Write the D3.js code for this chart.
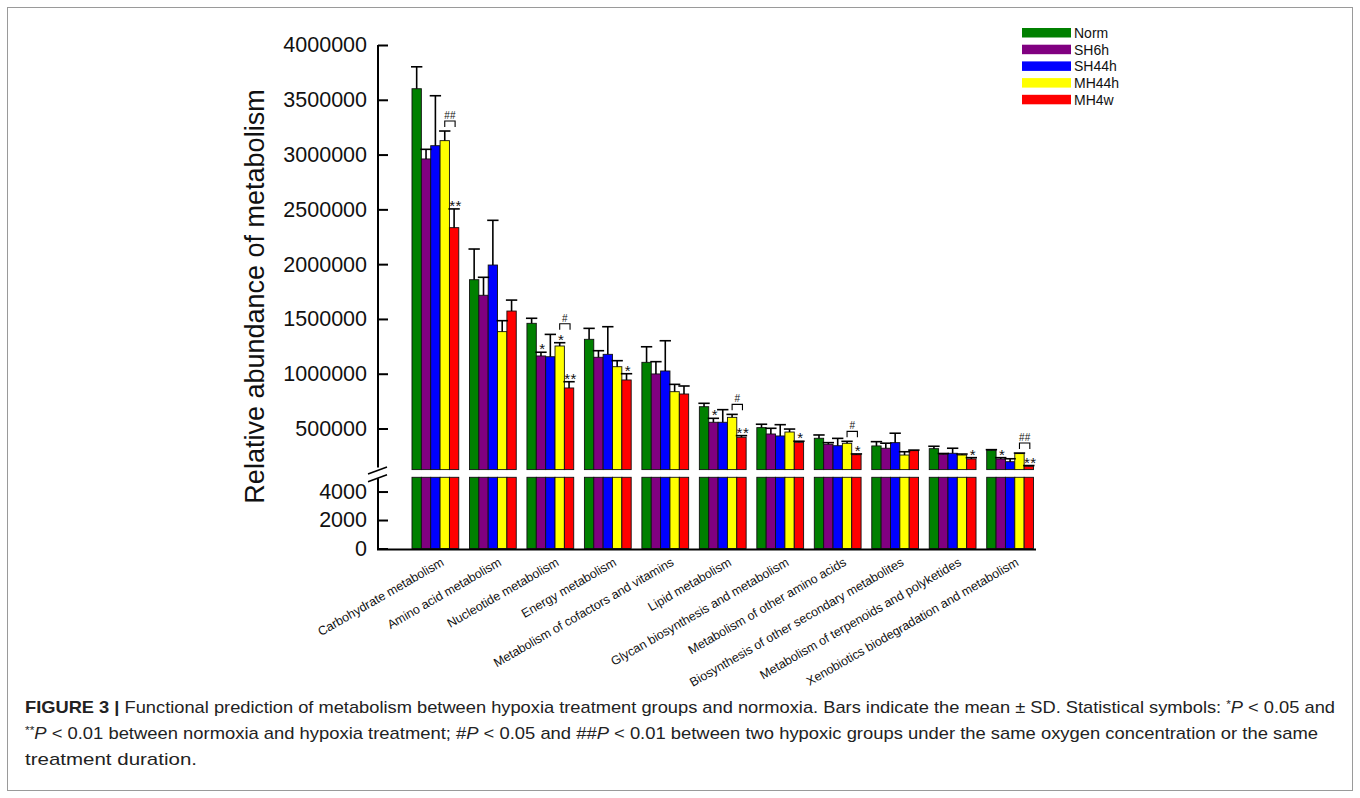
<!DOCTYPE html>
<html>
<head>
<meta charset="utf-8">
<script src="https://cdn.jsdelivr.net/npm/d3@7"></script>
<style>
  body { margin: 0; background: #fff; }
  svg { display: block; }
</style>
</head>
<body>
<script>
const width = 1360, height = 798;

// categories (x groups)
const categories = [
  "Carbohydrate metabolism",
  "Amino acid metabolism",
  "Nucleotide metabolism",
  "Energy metabolism",
  "Metabolism of cofactors and vitamins",
  "Lipid metabolism",
  "Glycan biosynthesis and metabolism",
  "Metabolism of other amino acids",
  "Biosynthesis of other secondary metabolites",
  "Metabolism of terpenoids and polyketides",
  "Xenobiotics biodegradation and metabolism"
];
const series = ["Norm", "SH6h", "SH44h", "MH44h", "MH4w"];
const colors = ["#008000", "#800080", "#0000ff", "#ffff00", "#ff0000"];

// means
const norm  = [3601000, 1858000, 1460000, 1314000, 1104000, 699000, 508000, 411000, 341000, 316000, 301000];
const sh6h  = [2960000, 1716000, 1162000, 1150000,  998000, 557000, 450000, 356000, 320000, 265000, 222000];
const sh44h = [3081000, 1992000, 1155000, 1177000, 1025000, 557000, 432000, 343000, 371000, 274000, 197000];
const mh44h = [3127000, 1384000, 1253000, 1064000,  836000, 602000, 468000, 365000, 258000, 258000, 271000];
const mh4w  = [2333000, 1572000,  870000,  943000,  815000, 420000, 374000, 261000, 298000, 222000, 156000];

// standard deviations
const normSd  = [200000, 280000,  46000, 100000, 142000,  31000,  31000, 30000, 39000, 22000,  6000];
const sh6hSd  = [ 88000, 164000,  34000,  60000, 112000,  36000,  52000, 15000, 46000,  7000, 12000];
const sh44hSd = [456000, 408000, 204000, 252000, 276000, 115000, 103000, 67000, 86000, 46000, 27000];
const mh44hSd = [ 88000, 100000,  30000,  55000,  67000,  27000,  27000, 18000, 30000,  9000,  5000];
const mh4wSd  = [171000, 100000,  57000,  57000,  73000,  15000,  10000,  7000,  5000, 12000,  6000];

const upperTicks = [500000, 1000000, 1500000, 2000000, 2500000, 3000000, 3500000, 4000000];
const lowerTicks = [0, 2000, 4000];
// axis break: lower segment 0..5000, upper segment 125000..4000000
const lowerMax = 5000, upperMin = 125000, upperMax = 4000000;

// significance marks: [category index, series index, label]
const stars = [
  [0, 4, "**"], [2, 1, "*"], [2, 3, "*"], [2, 4, "**"], [3, 4, "*"],
  [5, 1, "*"], [5, 4, "**"], [6, 4, "*"], [7, 4, "*"], [9, 4, "*"],
  [10, 1, "*"], [10, 4, "**"]
];
// brackets between MH44h and MH4w: [category index, label]
const brackets = [[0, "##"], [2, "#"], [5, "#"], [7, "#"], [10, "##"]];

const means = [norm, sh6h, sh44h, mh44h, mh4w];
const sds = [normSd, sh6hSd, sh44hSd, mh44hSd, mh4wSd];

const font = "'Liberation Sans', Arial, Helvetica, sans-serif";

const svg = d3.select("body").append("svg")
  .attr("width", width)
  .attr("height", height)
  .style("font-family", font);

// figure frame
svg.append("rect")
  .attr("x", 7.5).attr("y", 7.5)
  .attr("width", 1345).attr("height", 783)
  .attr("fill", "none").attr("stroke", "#9a9a9a").attr("stroke-width", 1);

const axisLeftX = 378, axisRightX = 1036;

const x = d3.scaleBand().domain(categories).range([412, 1033.5]).paddingInner(0.186);
const xs = d3.scaleBand().domain(series).range([0, x.bandwidth()]);
const yU = d3.scaleLinear().domain([upperMin, upperMax]).range([469.6, 45]);
const yL = d3.scaleLinear().domain([0, lowerMax]).range([548.5, 477.3]);

// bars
const rows = [];
categories.forEach((c, i) => series.forEach((s, j) => rows.push({
  c: c, i: i, s: s, j: j, v: means[j][i], sd: sds[j][i]
})));

const g = svg.append("g");
const bx = d => x(d.c) + xs(d.s);
const cx = d => bx(d) + xs.bandwidth() / 2;

g.selectAll("rect.up").data(rows).join("rect")
  .attr("class", "up")
  .attr("x", bx)
  .attr("y", d => yU(d.v))
  .attr("width", xs.bandwidth())
  .attr("height", d => yU(upperMin) - yU(d.v))
  .attr("fill", d => colors[d.j])
  .attr("stroke", "#111").attr("stroke-width", 0.9);

g.selectAll("rect.low").data(rows).join("rect")
  .attr("class", "low")
  .attr("x", bx)
  .attr("y", d => yL(Math.min(d.v, lowerMax)))
  .attr("width", xs.bandwidth())
  .attr("height", d => yL(0) - yL(Math.min(d.v, lowerMax)))
  .attr("fill", d => colors[d.j])
  .attr("stroke", "#111").attr("stroke-width", 0.9);

// error bars (upper half only)
const capW = xs.bandwidth() / 2 + 1;
g.selectAll("line.err").data(rows).join("line")
  .attr("class", "err")
  .attr("x1", cx).attr("x2", cx)
  .attr("y1", d => yU(d.v)).attr("y2", d => yU(d.v + d.sd))
  .attr("stroke", "#000").attr("stroke-width", 1.6);
g.selectAll("line.cap").data(rows).join("line")
  .attr("class", "cap")
  .attr("x1", d => cx(d) - capW).attr("x2", d => cx(d) + capW)
  .attr("y1", d => yU(d.v + d.sd)).attr("y2", d => yU(d.v + d.sd))
  .attr("stroke", "#000").attr("stroke-width", 1.6);

// stars
const capY = (i, j) => yU(means[j][i] + sds[j][i]);
g.selectAll("text.star").data(stars).join("text")
  .attr("class", "star")
  .attr("x", d => x(categories[d[0]]) + xs(series[d[1]]) + xs.bandwidth() / 2 + 1.5)
  .attr("y", d => capY(d[0], d[1]) + 2)
  .attr("text-anchor", "middle")
  .attr("font-size", 15)
  .attr("fill", "#111")
  .attr("letter-spacing", 0.5)
  .text(d => d[2]);

// brackets
const hasStar = (i, j) => stars.some(s => s[0] === i && s[1] === j);
brackets.forEach(b => {
  const i = b[0];
  const top = Math.min(
    capY(i, 3) - (hasStar(i, 3) ? 9 : 0),
    capY(i, 4) - (hasStar(i, 4) ? 9 : 0)
  ) - 10;
  const x1 = x(categories[i]) + xs(series[3]) + xs.bandwidth() / 2;
  const x2 = x(categories[i]) + xs(series[4]) + xs.bandwidth() / 2 + 1;
  g.append("path")
    .attr("d", `M${x1},${top + 6}V${top}H${x2}V${top + 6}`)
    .attr("fill", "none").attr("stroke", "#000").attr("stroke-width", 1.1);
  g.append("text")
    .attr("x", (x1 + x2) / 2).attr("y", top - 2)
    .attr("text-anchor", "middle")
    .attr("font-size", 10)
    .attr("fill", "#111")
    .text(b[1]);
});

// y axes (ticks point inward)
const fmt = d3.format("d");
const axU = svg.append("g").attr("transform", `translate(${axisLeftX},0)`)
  .call(d3.axisLeft(yU).tickValues(upperTicks).tickSize(-10).tickPadding(11).tickFormat(fmt));
const axL = svg.append("g").attr("transform", `translate(${axisLeftX},0)`)
  .call(d3.axisLeft(yL).tickValues(lowerTicks).tickSize(-10).tickPadding(11).tickFormat(fmt));
[axU, axL].forEach(a => {
  a.select(".domain").remove();
  a.selectAll(".tick line").attr("stroke", "#000").attr("stroke-width", 2);
  a.selectAll(".tick text").attr("font-size", 21.5).attr("font-family", font).attr("fill", "#111");
});

svg.append("line")
  .attr("x1", axisLeftX).attr("x2", axisLeftX)
  .attr("y1", yU(upperMax)).attr("y2", yU(upperMin) - 2)
  .attr("stroke", "#000").attr("stroke-width", 2);
svg.append("line")
  .attr("x1", axisLeftX).attr("x2", axisLeftX)
  .attr("y1", yL(lowerMax) + 1).attr("y2", yL(0) + 1)
  .attr("stroke", "#000").attr("stroke-width", 2);
// break marks
[yU(upperMin) + 1, yL(lowerMax) + 1].forEach(yb => {
  svg.append("line")
    .attr("x1", axisLeftX - 10).attr("y1", yb + 3.5)
    .attr("x2", axisLeftX + 9).attr("y2", yb - 3.5)
    .attr("stroke", "#000").attr("stroke-width", 1.6);
});
// x axis line
svg.append("line")
  .attr("x1", axisLeftX - 1).attr("x2", axisRightX)
  .attr("y1", yL(0) + 1).attr("y2", yL(0) + 1)
  .attr("stroke", "#000").attr("stroke-width", 2);

// x labels
svg.append("g").selectAll("text").data(categories).join("text")
  .attr("transform", d => `translate(${x(d) + x.bandwidth() / 2 + 5},557) rotate(-30)`)
  .attr("text-anchor", "end")
  .attr("dy", "0.71em")
  .attr("font-size", 12.5)
  .attr("fill", "#111")
  .text(d => d);

// y title
svg.append("text")
  .attr("transform", "translate(264,296.5) rotate(-90)")
  .attr("text-anchor", "middle")
  .attr("font-size", 27)
  .attr("fill", "#111")
  .text("Relative abundance of metabolism");

// legend
const leg = svg.append("g").selectAll("g").data(series).join("g")
  .attr("transform", (d, i) => `translate(1022,${28 + i * 16.7})`);
leg.append("rect").attr("width", 49).attr("height", 9.5)
  .attr("fill", (d, i) => colors[i]);
leg.append("text").attr("x", 52).attr("y", 5).attr("dy", "0.35em")
  .attr("font-size", 14).attr("fill", "#111").text(d => d);

// caption
const capFont = "'Liberation Sans Narrow', 'Arial Narrow', 'Liberation Sans', Arial, sans-serif";
const cap = svg.append("g").attr("font-family", capFont).attr("font-size", 17).attr("fill", "#222");

const l1 = cap.append("text").attr("x", 25).attr("y", 713)
  .attr("textLength", 1310).attr("lengthAdjust", "spacingAndGlyphs");
l1.append("tspan").attr("font-weight", "bold").text("FIGURE 3 | ");
l1.append("tspan").text("Functional prediction of metabolism between hypoxia treatment groups and normoxia. Bars indicate the mean \u00B1 SD. Statistical symbols: ");
l1.append("tspan").attr("font-size", 11).attr("dy", -5).text("*");
l1.append("tspan").attr("font-style", "italic").attr("dy", 5).text("P");
l1.append("tspan").text(" < 0.05 and");

const l2 = cap.append("text").attr("x", 25).attr("y", 739)
  .attr("textLength", 1293).attr("lengthAdjust", "spacingAndGlyphs");
l2.append("tspan").attr("font-size", 11).attr("dy", -5).text("**");
l2.append("tspan").attr("font-style", "italic").attr("dy", 5).text("P");
l2.append("tspan").text(" < 0.01 between normoxia and hypoxia treatment; #");
l2.append("tspan").attr("font-style", "italic").text("P");
l2.append("tspan").text(" < 0.05 and ##");
l2.append("tspan").attr("font-style", "italic").text("P");
l2.append("tspan").text(" < 0.01 between two hypoxic groups under the same oxygen concentration or the same");

cap.append("text").attr("x", 25).attr("y", 765)
  .attr("textLength", 172).attr("lengthAdjust", "spacingAndGlyphs")
  .text("treatment duration.");
</script>
</body>
</html>
